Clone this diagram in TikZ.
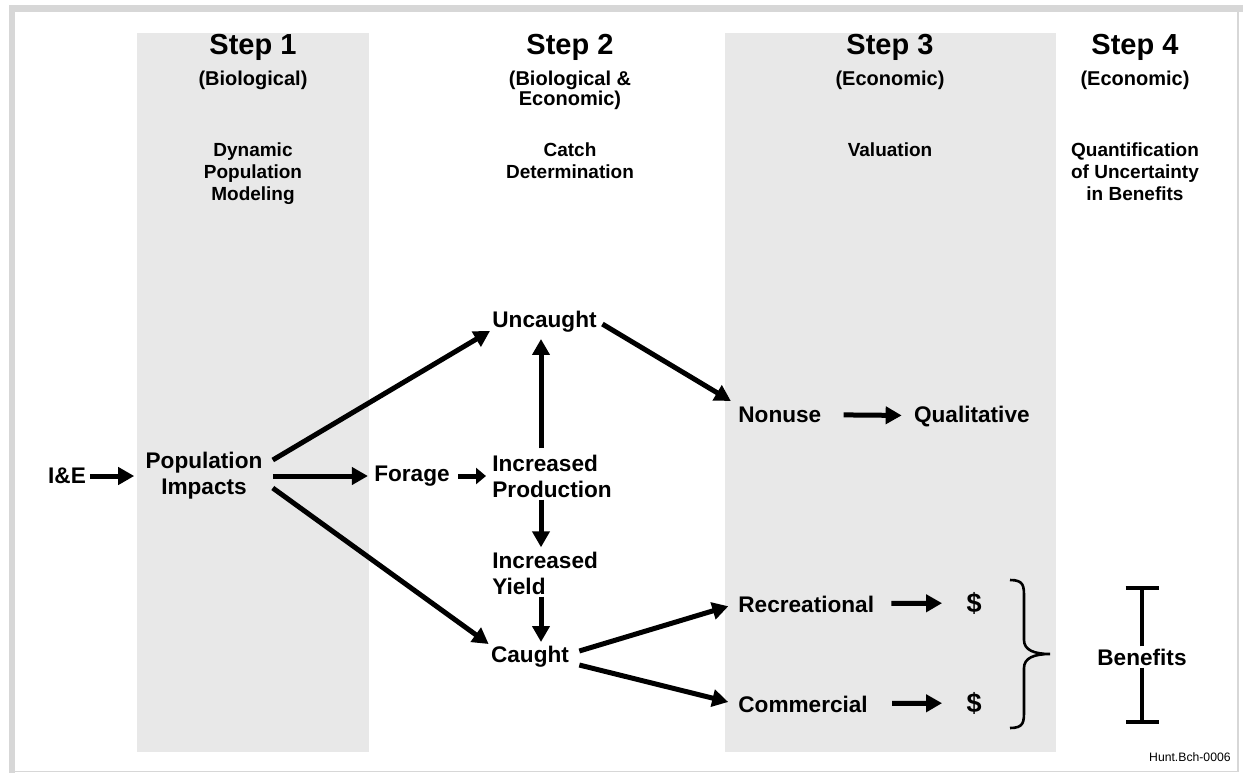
\documentclass[tikz,border=0pt]{standalone}
\usepackage{fontspec}
\setmainfont{Liberation Sans}
\usetikzlibrary{positioning, arrows.meta}
\definecolor{colgray}{RGB}{232,232,232}
\definecolor{framegray}{RGB}{215,215,215}

\begin{document}
\begin{tikzpicture}[x=0.5pt, y=-0.5pt, node distance=10pt,
  lbl/.style={font=\bfseries\fontsize{11.3}{13}\selectfont, align=center, inner sep=1pt},
  lbll/.style={lbl, align=left},
  dollar/.style={font=\bfseries\fontsize{13.5}{15}\selectfont, inner sep=1pt},
  steptitle/.style={font=\bfseries\fontsize{14.5}{17}\selectfont, inner sep=0pt},
  stepsub/.style={font=\bfseries\fontsize{10}{10}\selectfont, align=center, inner sep=0pt},
  stepdesc/.style={font=\bfseries\fontsize{9.5}{11}\selectfont, align=center, inner sep=0pt},
  arr/.style={line width=2.5pt, -{Triangle[length=8pt, width=8.5pt]}},
  smallarr/.style={line width=2.5pt, -{Triangle[length=5pt, width=8pt]}},
  ebar/.style={line width=2pt, -{Bar[width=16.5pt]}}]

  \useasboundingbox (0,0) rectangle (1243,773);
  % frame and shaded columns
  \fill[framegray] (9,5) rectangle (1243,12);
  \fill[framegray] (9,5) rectangle (15,773);
  \draw[framegray, line width=0.6pt] (1238,12) -- (1238,771.5) -- (15,771.5);
  \fill[colgray] (137,33) rectangle (369,752);
  \fill[colgray] (725,33) rectangle (1056,752);

  % column headers
  \node[steptitle] (s1) at (253,47) {Step 1};
  \node[steptitle] (s2) at (570,47) {Step 2};
  \node[steptitle] (s3) at (890,47) {Step 3};
  \node[steptitle] (s4) at (1135,47) {Step 4};
  \node[stepsub, below=5pt of s1] (t1) {(Biological)};
  \node[stepsub, below=5pt of s2] (t2) {(Biological \&\\Economic)};
  \node[stepsub, below=5pt of s3] (t3) {(Economic)};
  \node[stepsub, below=5pt of s4] (t4) {(Economic)};
  \node[stepdesc, anchor=north] (d1) at (253,142) {Dynamic\\Population\\Modeling};
  \node[stepdesc, anchor=north] (d2) at (570,142) {Catch\\Determination};
  \node[stepdesc, anchor=north] (d3) at (890,142) {Valuation};
  \node[stepdesc, anchor=north] (d4) at (1135,142) {Quantification\\of Uncertainty\\in Benefits};

  % flow
  \node[lbl] (ie) at (67,476) {I\&E};
  \node[lbl] (pop) at (204,476) {Population\\Impacts};
  \node[lbl] (forage) at (412,476) {Forage};
  \node[lbll, anchor=west] (prod) at (490,476) {Increased\\Production};
  \node[lbl, anchor=west] (unc) at (490,322) {Uncaught};
  \node[lbll, anchor=west] (yield) at (490,573) {Increased\\Yield};
  \node[lbl] (caught) at (530,657) {Caught};
  \node[lbl, anchor=base west] (nonuse) at (736,422) {Nonuse};
  \node[lbl, base right=44pt of nonuse] (qual) {Qualitative};
  \node[lbl, anchor=base west] (rec) at (736,612) {Recreational};
  \node[lbl, anchor=base west] (com) at (736,712) {Commercial};
  \node[dollar, anchor=base] (usd1) at (974,612) {\$};
  \node[dollar, anchor=base] (usd2) at (974,712) {\$};
  \node[lbl] (ben) at (1142,657) {Benefits};
  \node[font=\fontsize{6.1}{7}\selectfont, anchor=east, inner sep=0pt] (tag) at (1231,757) {Hunt.Bch-0006};

  \draw[arr, shorten <=1pt, shorten >=4.5pt] (ie) -- (pop);
  \draw[arr] ([shift={(4pt,8pt)}]pop.east) -- ([yshift=2pt]unc.south west);
  \draw[arr, shorten >=2pt] ([xshift=4pt]pop.east) -- (forage.west);
  \draw[arr] ([shift={(4pt,-6pt)}]pop.east) -- (caught.north west);
  \draw[smallarr, shorten <=3pt, shorten >=2pt] (forage) -- (prod.west);
  \draw[arr, shorten <=2pt, shorten >=2pt] ([xshift=25.5pt]prod.north west) -- ([xshift=25.5pt]prod.north west |- unc.south);
  \draw[arr, shorten >=1pt] ([xshift=25.5pt]prod.south west) -- ([xshift=25.5pt]yield.north west);
  \draw[arr, shorten >=1pt] ([xshift=25.5pt]yield.south west) -- ([xshift=25.5pt]yield.south west |- caught.north);
  \draw[arr, shorten <=2pt, shorten >=3pt] (unc.east) -- (nonuse.north west);
  \draw[arr, shorten <=10pt, shorten >=5pt] (nonuse) -- (qual);
  \draw[arr, shorten >=4pt] ([shift={(4pt,3pt)}]caught.east) -- (rec.west);
  \draw[arr, shorten >=4pt] ([shift={(4pt,-4pt)}]caught.east) -- (com.west);
  \draw[arr, shorten <=7.5pt, shorten >=11pt] (rec) -- (usd1);
  \draw[arr, shorten <=11pt, shorten >=11pt] (com) -- (usd2);

  % benefits range
  \draw[line width=1.3pt] (1010,580) .. controls (1024,580) and (1024,586) .. (1024,598)
    -- (1024,640) .. controls (1024,650) and (1034,654) .. (1050,654)
    .. controls (1034,654) and (1024,658) .. (1024,668)
    -- (1024,710) .. controls (1024,722) and (1024,728) .. (1010,728);
  \draw[ebar] (ben.north) -- ++(0,-60);
  \draw[ebar] (ben.south) -- ++(0,56);
\end{tikzpicture}
\end{document}
